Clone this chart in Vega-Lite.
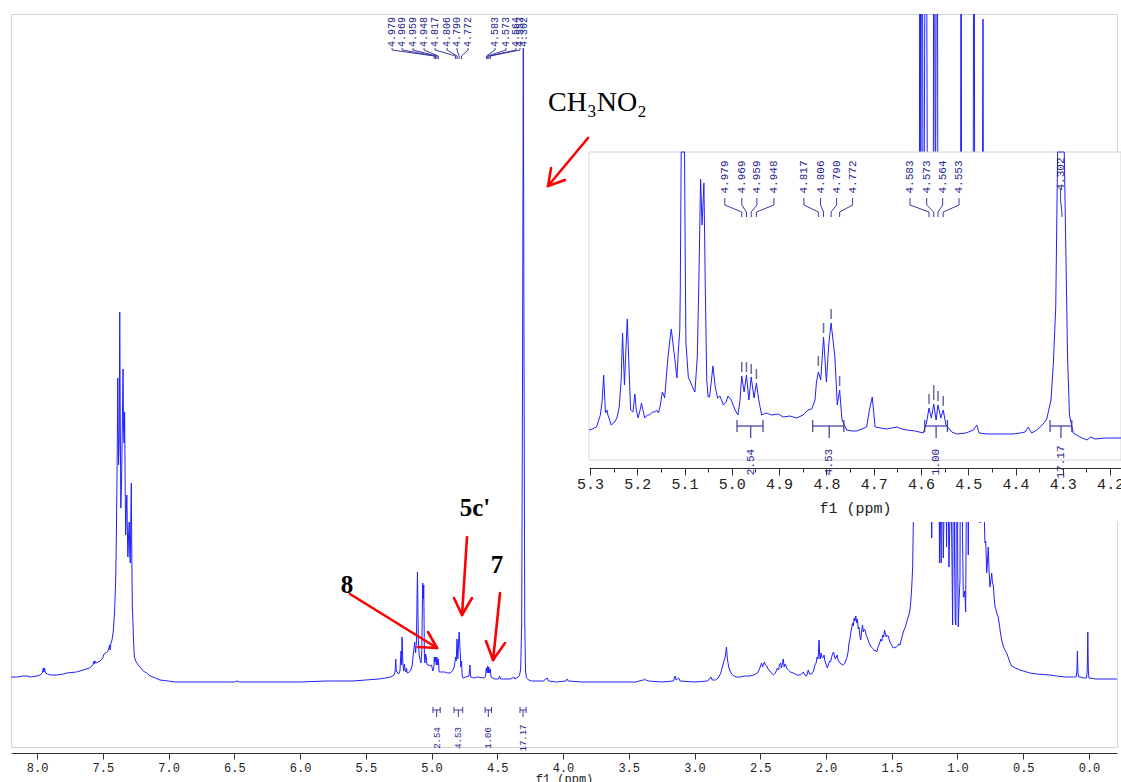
{
"$schema": "https://vega.github.io/schema/vega-lite/v6.json",
"width": 1106, "height": 733,
"autosize": {"type": "none"},
"padding": {"left": 11, "top": 14, "right": 4, "bottom": 35},
"background": "white",
"config": {"view": {"stroke": "#d4d4d4", "strokeWidth": 1}, "axis": {"labelFont": "Liberation Mono", "titleFont": "Liberation Mono", "domainColor": "#333333", "tickColor": "#333333", "labelColor": "#222222", "titleColor": "#222222", "grid": false, "titleFontWeight": "normal"}},
"datasets": {
"main": [
{"p":8.198,"i":4},{"p":8.15,"i":4},{"p":8.1,"i":5},{"p":8.078,"i":5},{"p":8.05,"i":4},{"p":8.0,"i":5},{"p":7.977,"i":6},{"p":7.96,"i":8},{"p":7.952,"i":13},{"p":7.948,"i":9},{"p":7.943,"i":13},{"p":7.937,"i":8},{"p":7.92,"i":7},{"p":7.9,"i":6},{"p":7.85,"i":6},{"p":7.8,"i":7},{"p":7.774,"i":8},{"p":7.7,"i":9},{"p":7.65,"i":11},{"p":7.6,"i":13},{"p":7.575,"i":16},{"p":7.568,"i":20},{"p":7.562,"i":17},{"p":7.557,"i":20},{"p":7.55,"i":18},{"p":7.52,"i":20},{"p":7.5,"i":23},{"p":7.496,"i":25},{"p":7.49,"i":27},{"p":7.48,"i":28},{"p":7.465,"i":29},{"p":7.455,"i":32},{"p":7.448,"i":36},{"p":7.445,"i":31},{"p":7.438,"i":38},{"p":7.43,"i":41},{"p":7.42,"i":50},{"p":7.41,"i":70},{"p":7.402,"i":100},{"p":7.397,"i":140},{"p":7.394,"i":178},{"p":7.39,"i":230},{"p":7.386,"i":303},{"p":7.383,"i":260},{"p":7.38,"i":216},{"p":7.375,"i":240},{"p":7.371,"i":369},{"p":7.367,"i":260},{"p":7.363,"i":173},{"p":7.357,"i":200},{"p":7.351,"i":260},{"p":7.346,"i":312},{"p":7.342,"i":250},{"p":7.338,"i":238},{"p":7.334,"i":269},{"p":7.33,"i":200},{"p":7.326,"i":146},{"p":7.321,"i":170},{"p":7.317,"i":186},{"p":7.313,"i":150},{"p":7.309,"i":124},{"p":7.304,"i":145},{"p":7.299,"i":159},{"p":7.295,"i":128},{"p":7.291,"i":118},{"p":7.287,"i":160},{"p":7.283,"i":198},{"p":7.279,"i":120},{"p":7.275,"i":73},{"p":7.271,"i":60},{"p":7.266,"i":40},{"p":7.26,"i":24},{"p":7.25,"i":20},{"p":7.24,"i":18},{"p":7.23,"i":16},{"p":7.217,"i":14},{"p":7.2,"i":11},{"p":7.18,"i":9},{"p":7.166,"i":8},{"p":7.14,"i":5},{"p":7.1,"i":3},{"p":7.065,"i":1},{"p":7.0,"i":0},{"p":6.95,"i":-1},{"p":6.7,"i":-1},{"p":6.5,"i":-1},{"p":6.48,"i":0},{"p":6.46,"i":-1},{"p":6.0,"i":-1},{"p":5.8,"i":0},{"p":5.6,"i":0},{"p":5.5,"i":1},{"p":5.4,"i":2},{"p":5.35,"i":3},{"p":5.31,"i":4},{"p":5.285,"i":6},{"p":5.277,"i":9},{"p":5.272,"i":22},{"p":5.268,"i":10},{"p":5.262,"i":9},{"p":5.25,"i":7},{"p":5.24,"i":10},{"p":5.232,"i":30},{"p":5.228,"i":16},{"p":5.224,"i":44},{"p":5.218,"i":18},{"p":5.212,"i":10},{"p":5.206,"i":17},{"p":5.2,"i":10},{"p":5.195,"i":9},{"p":5.19,"i":13},{"p":5.185,"i":8},{"p":5.17,"i":9},{"p":5.16,"i":10},{"p":5.15,"i":14},{"p":5.145,"i":18},{"p":5.14,"i":25},{"p":5.135,"i":30},{"p":5.128,"i":39},{"p":5.121,"i":28},{"p":5.115,"i":38},{"p":5.107,"i":109},{"p":5.1,"i":40},{"p":5.094,"i":26},{"p":5.088,"i":22},{"p":5.08,"i":18},{"p":5.074,"i":30},{"p":5.067,"i":98},{"p":5.063,"i":82},{"p":5.059,"i":96},{"p":5.054,"i":24},{"p":5.05,"i":18},{"p":5.045,"i":27},{"p":5.04,"i":24},{"p":5.035,"i":17},{"p":5.03,"i":16},{"p":5.02,"i":16},{"p":5.01,"i":15},{"p":5.0,"i":16},{"p":4.99,"i":10},{"p":4.982,"i":14},{"p":4.979,"i":24},{"p":4.974,"i":19},{"p":4.969,"i":24},{"p":4.964,"i":16},{"p":4.959,"i":24},{"p":4.953,"i":16},{"p":4.948,"i":22},{"p":4.942,"i":9},{"p":4.93,"i":9},{"p":4.9,"i":9},{"p":4.88,"i":8},{"p":4.86,"i":8},{"p":4.84,"i":10},{"p":4.828,"i":14},{"p":4.821,"i":20},{"p":4.817,"i":24},{"p":4.812,"i":20},{"p":4.806,"i":42},{"p":4.8,"i":22},{"p":4.79,"i":49},{"p":4.782,"i":30},{"p":4.777,"i":14},{"p":4.772,"i":20},{"p":4.767,"i":6},{"p":4.76,"i":3},{"p":4.74,"i":4},{"p":4.715,"i":5},{"p":4.708,"i":16},{"p":4.702,"i":4},{"p":4.68,"i":3},{"p":4.65,"i":4},{"p":4.6,"i":3},{"p":4.59,"i":4},{"p":4.583,"i":13},{"p":4.578,"i":8},{"p":4.573,"i":15},{"p":4.568,"i":8},{"p":4.564,"i":14},{"p":4.558,"i":8},{"p":4.553,"i":12},{"p":4.547,"i":4},{"p":4.52,"i":2},{"p":4.49,"i":2},{"p":4.482,"i":5},{"p":4.475,"i":2},{"p":4.4,"i":2},{"p":4.373,"i":4},{"p":4.365,"i":2},{"p":4.34,"i":4},{"p":4.33,"i":6},{"p":4.322,"i":12},{"p":4.314,"i":60},{"p":4.308,"i":300},{"p":4.302,"i":633},{"p":4.296,"i":300},{"p":4.291,"i":60},{"p":4.285,"i":10},{"p":4.278,"i":3},{"p":4.26,"i":1},{"p":4.24,"i":0},{"p":4.15,"i":0},{"p":4.12,"i":3},{"p":4.11,"i":0},{"p":4.05,"i":-1},{"p":3.98,"i":0},{"p":3.97,"i":2},{"p":3.96,"i":0},{"p":3.85,"i":-1},{"p":3.55,"i":-1},{"p":3.45,"i":-1},{"p":3.39,"i":1},{"p":3.38,"i":2},{"p":3.37,"i":1},{"p":3.35,"i":0},{"p":3.25,"i":-1},{"p":3.16,"i":0},{"p":3.148,"i":5},{"p":3.14,"i":1},{"p":3.12,"i":3},{"p":3.11,"i":0},{"p":3.0,"i":-1},{"p":2.9,"i":0},{"p":2.875,"i":4},{"p":2.865,"i":1},{"p":2.84,"i":1},{"p":2.82,"i":3},{"p":2.8,"i":8},{"p":2.793,"i":12},{"p":2.78,"i":18},{"p":2.765,"i":25},{"p":2.757,"i":34},{"p":2.75,"i":22},{"p":2.74,"i":14},{"p":2.73,"i":10},{"p":2.717,"i":7},{"p":2.7,"i":5},{"p":2.68,"i":4},{"p":2.65,"i":4},{"p":2.62,"i":5},{"p":2.58,"i":5},{"p":2.55,"i":6},{"p":2.52,"i":8},{"p":2.5,"i":14},{"p":2.49,"i":18},{"p":2.482,"i":14},{"p":2.475,"i":17},{"p":2.468,"i":19},{"p":2.46,"i":16},{"p":2.45,"i":15},{"p":2.44,"i":12},{"p":2.426,"i":10},{"p":2.41,"i":7},{"p":2.4,"i":6},{"p":2.385,"i":8},{"p":2.37,"i":13},{"p":2.36,"i":11},{"p":2.355,"i":16},{"p":2.345,"i":18},{"p":2.34,"i":13},{"p":2.335,"i":15},{"p":2.325,"i":22},{"p":2.318,"i":14},{"p":2.312,"i":17},{"p":2.307,"i":16},{"p":2.295,"i":12},{"p":2.287,"i":11},{"p":2.27,"i":9},{"p":2.25,"i":8},{"p":2.22,"i":6},{"p":2.198,"i":6},{"p":2.185,"i":7},{"p":2.173,"i":9},{"p":2.16,"i":6},{"p":2.147,"i":5},{"p":2.135,"i":11},{"p":2.125,"i":7},{"p":2.109,"i":7},{"p":2.095,"i":10},{"p":2.084,"i":16},{"p":2.075,"i":18},{"p":2.068,"i":24},{"p":2.06,"i":22},{"p":2.053,"i":41},{"p":2.048,"i":26},{"p":2.044,"i":22},{"p":2.038,"i":28},{"p":2.032,"i":24},{"p":2.025,"i":23},{"p":2.015,"i":26},{"p":2.008,"i":20},{"p":1.998,"i":16},{"p":1.99,"i":13},{"p":1.98,"i":17},{"p":1.972,"i":20},{"p":1.965,"i":19},{"p":1.957,"i":24},{"p":1.948,"i":28},{"p":1.942,"i":29},{"p":1.936,"i":25},{"p":1.93,"i":22},{"p":1.922,"i":24},{"p":1.915,"i":26},{"p":1.908,"i":21},{"p":1.899,"i":19},{"p":1.885,"i":17},{"p":1.869,"i":16},{"p":1.86,"i":17},{"p":1.85,"i":20},{"p":1.84,"i":24},{"p":1.832,"i":29},{"p":1.825,"i":38},{"p":1.818,"i":42},{"p":1.812,"i":48},{"p":1.805,"i":53},{"p":1.798,"i":58},{"p":1.792,"i":55},{"p":1.786,"i":63},{"p":1.78,"i":60},{"p":1.773,"i":65},{"p":1.767,"i":58},{"p":1.761,"i":62},{"p":1.755,"i":52},{"p":1.749,"i":54},{"p":1.742,"i":45},{"p":1.736,"i":41},{"p":1.729,"i":50},{"p":1.722,"i":56},{"p":1.716,"i":49},{"p":1.71,"i":52},{"p":1.703,"i":51},{"p":1.695,"i":46},{"p":1.688,"i":44},{"p":1.68,"i":41},{"p":1.672,"i":38},{"p":1.664,"i":36},{"p":1.656,"i":34},{"p":1.648,"i":33},{"p":1.64,"i":32},{"p":1.632,"i":30},{"p":1.625,"i":31},{"p":1.615,"i":29},{"p":1.606,"i":33},{"p":1.598,"i":36},{"p":1.589,"i":39},{"p":1.582,"i":42},{"p":1.575,"i":40},{"p":1.568,"i":46},{"p":1.561,"i":44},{"p":1.555,"i":51},{"p":1.548,"i":47},{"p":1.541,"i":44},{"p":1.534,"i":46},{"p":1.526,"i":45},{"p":1.519,"i":41},{"p":1.51,"i":38},{"p":1.501,"i":36},{"p":1.494,"i":34},{"p":1.488,"i":33},{"p":1.48,"i":34},{"p":1.475,"i":33},{"p":1.465,"i":34},{"p":1.455,"i":35},{"p":1.447,"i":37},{"p":1.437,"i":36},{"p":1.428,"i":41},{"p":1.42,"i":45},{"p":1.41,"i":50},{"p":1.399,"i":53},{"p":1.39,"i":57},{"p":1.38,"i":62},{"p":1.37,"i":66},{"p":1.361,"i":71},{"p":1.355,"i":80},{"p":1.349,"i":91},{"p":1.344,"i":105},{"p":1.341,"i":114},{"p":1.336,"i":160},{"p":1.331,"i":250},{"p":1.324,"i":380},{"p":1.315,"i":430},{"p":1.305,"i":450},{"p":1.295,"i":460},{"p":1.29,"i":470},{"p":1.285,"i":1000},{"p":1.279,"i":440},{"p":1.27,"i":1000},{"p":1.262,"i":450},{"p":1.255,"i":430},{"p":1.24,"i":1000},{"p":1.228,"i":420},{"p":1.215,"i":380},{"p":1.205,"i":300},{"p":1.2,"i":200},{"p":1.196,"i":143},{"p":1.191,"i":260},{"p":1.185,"i":380},{"p":1.179,"i":1000},{"p":1.168,"i":420},{"p":1.156,"i":1000},{"p":1.148,"i":380},{"p":1.141,"i":250},{"p":1.137,"i":118},{"p":1.133,"i":350},{"p":1.129,"i":160},{"p":1.124,"i":118},{"p":1.12,"i":330},{"p":1.114,"i":200},{"p":1.108,"i":123},{"p":1.1,"i":190},{"p":1.092,"i":250},{"p":1.083,"i":134},{"p":1.076,"i":260},{"p":1.07,"i":180},{"p":1.065,"i":114},{"p":1.058,"i":160},{"p":1.05,"i":220},{"p":1.042,"i":120},{"p":1.037,"i":56},{"p":1.032,"i":200},{"p":1.027,"i":330},{"p":1.022,"i":120},{"p":1.017,"i":60},{"p":1.012,"i":56},{"p":1.007,"i":250},{"p":1.002,"i":330},{"p":0.998,"i":110},{"p":0.994,"i":54},{"p":0.988,"i":80},{"p":0.981,"i":101},{"p":0.977,"i":300},{"p":0.973,"i":1000},{"p":0.968,"i":320},{"p":0.962,"i":150},{"p":0.956,"i":84},{"p":0.951,"i":84},{"p":0.944,"i":90},{"p":0.938,"i":69},{"p":0.932,"i":200},{"p":0.926,"i":400},{"p":0.922,"i":200},{"p":0.918,"i":126},{"p":0.912,"i":250},{"p":0.905,"i":400},{"p":0.897,"i":350},{"p":0.89,"i":300},{"p":0.882,"i":330},{"p":0.875,"i":1000},{"p":0.868,"i":350},{"p":0.86,"i":330},{"p":0.85,"i":300},{"p":0.84,"i":250},{"p":0.834,"i":220},{"p":0.829,"i":158},{"p":0.822,"i":240},{"p":0.815,"i":330},{"p":0.806,"i":662},{"p":0.799,"i":200},{"p":0.794,"i":150},{"p":0.791,"i":138},{"p":0.785,"i":140},{"p":0.778,"i":108},{"p":0.772,"i":120},{"p":0.766,"i":134},{"p":0.76,"i":110},{"p":0.753,"i":94},{"p":0.745,"i":102},{"p":0.74,"i":108},{"p":0.734,"i":98},{"p":0.728,"i":96},{"p":0.722,"i":85},{"p":0.715,"i":74},{"p":0.708,"i":72},{"p":0.702,"i":68},{"p":0.69,"i":64},{"p":0.68,"i":55},{"p":0.672,"i":47},{"p":0.664,"i":41},{"p":0.65,"i":34},{"p":0.64,"i":31},{"p":0.626,"i":28},{"p":0.61,"i":22},{"p":0.6,"i":18},{"p":0.588,"i":15},{"p":0.56,"i":13},{"p":0.525,"i":11},{"p":0.5,"i":10},{"p":0.45,"i":8},{"p":0.398,"i":7},{"p":0.3,"i":6},{"p":0.246,"i":5},{"p":0.18,"i":4},{"p":0.119,"i":4},{"p":0.098,"i":4},{"p":0.092,"i":10},{"p":0.088,"i":30},{"p":0.084,"i":8},{"p":0.078,"i":4},{"p":0.068,"i":4},{"p":0.04,"i":3},{"p":0.018,"i":3},{"p":0.013,"i":12},{"p":0.009,"i":49},{"p":0.005,"i":10},{"p":0.0,"i":3},{"p":-0.05,"i":2},{"p":-0.1,"i":2},{"p":-0.213,"i":2}
],
"inset": [
{"p":5.302,"i":10},{"p":5.295,"i":11},{"p":5.286,"i":13},{"p":5.278,"i":25},{"p":5.274,"i":40},{"p":5.271,"i":65},{"p":5.268,"i":35},{"p":5.267,"i":27},{"p":5.264,"i":30},{"p":5.262,"i":25},{"p":5.255,"i":15},{"p":5.25,"i":17},{"p":5.248,"i":18},{"p":5.243,"i":22},{"p":5.238,"i":33},{"p":5.234,"i":60},{"p":5.231,"i":107},{"p":5.229,"i":80},{"p":5.227,"i":55},{"p":5.224,"i":90},{"p":5.221,"i":121},{"p":5.218,"i":80},{"p":5.214,"i":30},{"p":5.209,"i":28},{"p":5.205,"i":46},{"p":5.202,"i":30},{"p":5.198,"i":22},{"p":5.194,"i":30},{"p":5.191,"i":37},{"p":5.187,"i":28},{"p":5.184,"i":22},{"p":5.178,"i":25},{"p":5.174,"i":25},{"p":5.168,"i":28},{"p":5.163,"i":28},{"p":5.159,"i":30},{"p":5.155,"i":27},{"p":5.151,"i":35},{"p":5.147,"i":48},{"p":5.144,"i":45},{"p":5.142,"i":42},{"p":5.139,"i":60},{"p":5.135,"i":83},{"p":5.131,"i":100},{"p":5.128,"i":111},{"p":5.124,"i":95},{"p":5.121,"i":83},{"p":5.116,"i":62},{"p":5.113,"i":90},{"p":5.11,"i":110},{"p":5.109,"i":150},{"p":5.107,"i":288},{"p":5.1,"i":288},{"p":5.098,"i":150},{"p":5.097,"i":97},{"p":5.092,"i":63},{"p":5.085,"i":55},{"p":5.078,"i":48},{"p":5.073,"i":83},{"p":5.07,"i":150},{"p":5.066,"i":261},{"p":5.063,"i":215},{"p":5.059,"i":257},{"p":5.056,"i":150},{"p":5.053,"i":60},{"p":5.05,"i":43},{"p":5.047,"i":43},{"p":5.043,"i":60},{"p":5.04,"i":74},{"p":5.035,"i":53},{"p":5.03,"i":42},{"p":5.025,"i":44},{"p":5.018,"i":35},{"p":5.012,"i":38},{"p":5.008,"i":44},{"p":5.001,"i":40},{"p":4.994,"i":31},{"p":4.987,"i":25},{"p":4.983,"i":38},{"p":4.979,"i":64},{"p":4.974,"i":48},{"p":4.969,"i":65},{"p":4.964,"i":40},{"p":4.959,"i":63},{"p":4.953,"i":42},{"p":4.948,"i":57},{"p":4.943,"i":40},{"p":4.937,"i":25},{"p":4.927,"i":27},{"p":4.916,"i":25},{"p":4.902,"i":26},{"p":4.891,"i":23},{"p":4.877,"i":24},{"p":4.863,"i":22},{"p":4.849,"i":25},{"p":4.839,"i":30},{"p":4.831,"i":31},{"p":4.824,"i":40},{"p":4.821,"i":58},{"p":4.817,"i":68},{"p":4.812,"i":60},{"p":4.806,"i":103},{"p":4.8,"i":58},{"p":4.795,"i":95},{"p":4.79,"i":117},{"p":4.782,"i":83},{"p":4.777,"i":35},{"p":4.772,"i":50},{"p":4.767,"i":20},{"p":4.757,"i":10},{"p":4.745,"i":9},{"p":4.736,"i":9},{"p":4.725,"i":11},{"p":4.715,"i":13},{"p":4.709,"i":30},{"p":4.703,"i":43},{"p":4.697,"i":13},{"p":4.685,"i":12},{"p":4.673,"i":11},{"p":4.662,"i":12},{"p":4.651,"i":13},{"p":4.64,"i":11},{"p":4.63,"i":10},{"p":4.612,"i":9},{"p":4.595,"i":7},{"p":4.588,"i":18},{"p":4.583,"i":32},{"p":4.578,"i":22},{"p":4.573,"i":36},{"p":4.568,"i":20},{"p":4.564,"i":35},{"p":4.558,"i":22},{"p":4.553,"i":30},{"p":4.547,"i":15},{"p":4.535,"i":8},{"p":4.524,"i":6},{"p":4.505,"i":7},{"p":4.489,"i":10},{"p":4.482,"i":15},{"p":4.477,"i":7},{"p":4.46,"i":6},{"p":4.447,"i":6},{"p":4.425,"i":6},{"p":4.405,"i":6},{"p":4.39,"i":7},{"p":4.38,"i":8},{"p":4.373,"i":13},{"p":4.366,"i":7},{"p":4.355,"i":10},{"p":4.348,"i":13},{"p":4.34,"i":17},{"p":4.334,"i":21},{"p":4.325,"i":40},{"p":4.32,"i":77},{"p":4.315,"i":133},{"p":4.311,"i":288},{"p":4.297,"i":288},{"p":4.294,"i":200},{"p":4.29,"i":83},{"p":4.286,"i":25},{"p":4.278,"i":7},{"p":4.264,"i":3},{"p":4.249,"i":0},{"p":4.241,"i":3},{"p":4.232,"i":1},{"p":4.21,"i":2},{"p":4.177,"i":2}
],
"mint": [
{"p":4.989,"i":-29,"p2":4.934,"i2":-29},{"p":4.989,"i":-26,"p2":4.989,"i2":-32},{"p":4.934,"i":-26,"p2":4.934,"i2":-32},{"p":4.961,"i":-29,"p2":4.961,"i2":-36},
{"p":4.829,"i":-29,"p2":4.763,"i2":-29},{"p":4.829,"i":-26,"p2":4.829,"i2":-32},{"p":4.763,"i":-26,"p2":4.763,"i2":-32},{"p":4.796,"i":-29,"p2":4.796,"i2":-36},
{"p":4.592,"i":-29,"p2":4.544,"i2":-29},{"p":4.592,"i":-26,"p2":4.592,"i2":-32},{"p":4.544,"i":-26,"p2":4.544,"i2":-32},{"p":4.568,"i":-29,"p2":4.568,"i2":-36},
{"p":4.327,"i":-29,"p2":4.281,"i2":-29},{"p":4.327,"i":-26,"p2":4.327,"i2":-32},{"p":4.281,"i":-26,"p2":4.281,"i2":-32},{"p":4.304,"i":-29,"p2":4.304,"i2":-36}
],
"mintlab": [{"p":4.961,"i":-57,"t":"2.54"},{"p":4.796,"i":-57,"t":"4.53"},{"p":4.568,"i":-57,"t":"1.00"},{"p":4.304,"i":-57,"t":"17.17"}],
"mlab": [
{"p":5.3,"i":649,"t":"4.979"},{"p":5.224,"i":649,"t":"4.969"},{"p":5.141,"i":649,"t":"4.959"},{"p":5.057,"i":649,"t":"4.948"},
{"p":4.973,"i":649,"t":"4.817"},{"p":4.882,"i":649,"t":"4.806"},{"p":4.806,"i":649,"t":"4.790"},{"p":4.722,"i":649,"t":"4.772"},
{"p":4.517,"i":649,"t":"4.583"},{"p":4.433,"i":649,"t":"4.573"},{"p":4.357,"i":649,"t":"4.564"},{"p":4.327,"i":649,"t":"4.553"},{"p":4.297,"i":649,"t":"4.302"}
],
"mcon": [
{"g":1,"k":1,"p":5.3,"i":633},{"g":1,"k":2,"p":5.3,"i":631},{"g":1,"k":3,"p":4.979,"i":625},{"g":1,"k":4,"p":4.979,"i":622},
{"g":2,"k":1,"p":5.224,"i":633},{"g":2,"k":2,"p":5.224,"i":631},{"g":2,"k":3,"p":4.969,"i":625},{"g":2,"k":4,"p":4.969,"i":622},
{"g":3,"k":1,"p":5.141,"i":633},{"g":3,"k":2,"p":5.141,"i":631},{"g":3,"k":3,"p":4.959,"i":625},{"g":3,"k":4,"p":4.959,"i":622},
{"g":4,"k":1,"p":5.057,"i":633},{"g":4,"k":2,"p":5.057,"i":631},{"g":4,"k":3,"p":4.948,"i":625},{"g":4,"k":4,"p":4.948,"i":622},
{"g":5,"k":1,"p":4.973,"i":633},{"g":5,"k":2,"p":4.973,"i":631},{"g":5,"k":3,"p":4.817,"i":625},{"g":5,"k":4,"p":4.817,"i":622},
{"g":6,"k":1,"p":4.882,"i":633},{"g":6,"k":2,"p":4.882,"i":631},{"g":6,"k":3,"p":4.806,"i":625},{"g":6,"k":4,"p":4.806,"i":622},
{"g":7,"k":1,"p":4.806,"i":633},{"g":7,"k":2,"p":4.806,"i":631},{"g":7,"k":3,"p":4.79,"i":625},{"g":7,"k":4,"p":4.79,"i":622},
{"g":8,"k":1,"p":4.722,"i":633},{"g":8,"k":2,"p":4.722,"i":631},{"g":8,"k":3,"p":4.772,"i":625},{"g":8,"k":4,"p":4.772,"i":622},
{"g":9,"k":1,"p":4.517,"i":633},{"g":9,"k":2,"p":4.517,"i":631},{"g":9,"k":3,"p":4.583,"i":625},{"g":9,"k":4,"p":4.583,"i":622},
{"g":10,"k":1,"p":4.433,"i":633},{"g":10,"k":2,"p":4.433,"i":631},{"g":10,"k":3,"p":4.573,"i":625},{"g":10,"k":4,"p":4.573,"i":622},
{"g":11,"k":1,"p":4.357,"i":633},{"g":11,"k":2,"p":4.357,"i":631},{"g":11,"k":3,"p":4.564,"i":625},{"g":11,"k":4,"p":4.564,"i":622},
{"g":12,"k":1,"p":4.327,"i":633},{"g":12,"k":2,"p":4.327,"i":631},{"g":12,"k":3,"p":4.553,"i":625},{"g":12,"k":4,"p":4.553,"i":622}
],
"arrows": [
{"p":3.81,"i":543,"p2":4.114,"i2":495},{"p":4.114,"i":495,"p2":3.985,"i2":501},{"p":4.114,"i":495,"p2":4.091,"i2":513},
{"p":5.62,"i":87,"p2":4.958,"i2":33},{"p":4.958,"i":33,"p2":5.103,"i2":34},{"p":4.958,"i":33,"p2":5.027,"i2":49},
{"p":4.73,"i":144,"p2":4.768,"i2":66},{"p":4.768,"i":66,"p2":4.829,"i2":83},{"p":4.768,"i":66,"p2":4.692,"i2":83},
{"p":4.479,"i":88,"p2":4.532,"i2":21},{"p":4.532,"i":21,"p2":4.586,"i2":40},{"p":4.532,"i":21,"p2":4.441,"i2":38}
],
"redlab": [{"p":5.643,"i":96,"t":"8"},{"p":4.669,"i":173,"t":"5c'"},{"p":4.502,"i":116,"t":"7"}],
"chem": [{"p":4.114,"i":578,"t":"CH₃NO₂"}],
"ibg": [{"p":5.302,"p2":4.177,"i":288,"i2":-82}],
"ibox": [{"p":5.302,"p2":4.177,"i":288,"i2":-20}],
"iint": [
{"p":4.989,"i":14,"p2":4.934,"i2":14},{"p":4.989,"i":20,"p2":4.989,"i2":8},{"p":4.934,"i":20,"p2":4.934,"i2":8},{"p":4.96,"i":14,"p2":4.96,"i2":2},
{"p":4.829,"i":14,"p2":4.763,"i2":14},{"p":4.829,"i":20,"p2":4.829,"i2":8},{"p":4.763,"i":20,"p2":4.763,"i2":8},{"p":4.794,"i":14,"p2":4.794,"i2":2},
{"p":4.592,"i":14,"p2":4.544,"i2":14},{"p":4.592,"i":20,"p2":4.592,"i2":8},{"p":4.544,"i":20,"p2":4.544,"i2":8},{"p":4.568,"i":14,"p2":4.568,"i2":2},
{"p":4.327,"i":14,"p2":4.281,"i2":14},{"p":4.327,"i":20,"p2":4.327,"i2":8},{"p":4.281,"i":20,"p2":4.281,"i2":8},{"p":4.304,"i":14,"p2":4.304,"i2":2}
],
"iintlab": [{"p":4.96,"i":-22,"t":"2.54"},{"p":4.794,"i":-22,"t":"4.53"},{"p":4.568,"i":-22,"t":"1.00"},{"p":4.304,"i":-22,"t":"17.17"}],
"imark": [
{"p":4.979,"i":68,"i2":78},{"p":4.969,"i":68,"i2":78},{"p":4.959,"i":66,"i2":76},{"p":4.948,"i":61,"i2":71},
{"p":4.817,"i":74,"i2":84},{"p":4.806,"i":107,"i2":117},{"p":4.79,"i":121,"i2":131},{"p":4.772,"i":54,"i2":64},
{"p":4.583,"i":36,"i2":46},{"p":4.573,"i":40,"i2":55},{"p":4.564,"i":39,"i2":49},{"p":4.553,"i":34,"i2":44}
],
"ilab": [
{"p":5.0148,"i":263,"t":"4.979"},{"p":4.9788,"i":263,"t":"4.969"},{"p":4.947,"i":263,"t":"4.959"},{"p":4.911,"i":263,"t":"4.948"},
{"p":4.8476,"i":263,"t":"4.817"},{"p":4.8123,"i":263,"t":"4.806"},{"p":4.7784,"i":263,"t":"4.790"},{"p":4.7446,"i":263,"t":"4.772"},
{"p":4.6233,"i":263,"t":"4.583"},{"p":4.5879,"i":263,"t":"4.573"},{"p":4.5541,"i":263,"t":"4.564"},{"p":4.5196,"i":263,"t":"4.553"},
{"p":4.3048,"i":266,"t":"4.302"}
],
"icon": [
{"g":1,"k":1,"p":5.0148,"i":242},{"g":1,"k":2,"p":5.0148,"i":235},{"g":1,"k":3,"p":4.979,"i":228},{"g":1,"k":4,"p":4.979,"i":223},
{"g":2,"k":1,"p":4.9788,"i":242},{"g":2,"k":2,"p":4.9788,"i":235},{"g":2,"k":3,"p":4.969,"i":228},{"g":2,"k":4,"p":4.969,"i":223},
{"g":3,"k":1,"p":4.947,"i":242},{"g":3,"k":2,"p":4.947,"i":235},{"g":3,"k":3,"p":4.959,"i":228},{"g":3,"k":4,"p":4.959,"i":223},
{"g":4,"k":1,"p":4.911,"i":242},{"g":4,"k":2,"p":4.911,"i":235},{"g":4,"k":3,"p":4.948,"i":228},{"g":4,"k":4,"p":4.948,"i":223},
{"g":5,"k":1,"p":4.8476,"i":242},{"g":5,"k":2,"p":4.8476,"i":235},{"g":5,"k":3,"p":4.817,"i":228},{"g":5,"k":4,"p":4.817,"i":223},
{"g":6,"k":1,"p":4.8123,"i":242},{"g":6,"k":2,"p":4.8123,"i":235},{"g":6,"k":3,"p":4.806,"i":228},{"g":6,"k":4,"p":4.806,"i":223},
{"g":7,"k":1,"p":4.7784,"i":242},{"g":7,"k":2,"p":4.7784,"i":235},{"g":7,"k":3,"p":4.79,"i":228},{"g":7,"k":4,"p":4.79,"i":223},
{"g":8,"k":1,"p":4.7446,"i":242},{"g":8,"k":2,"p":4.7446,"i":235},{"g":8,"k":3,"p":4.772,"i":228},{"g":8,"k":4,"p":4.772,"i":223},
{"g":9,"k":1,"p":4.6233,"i":242},{"g":9,"k":2,"p":4.6233,"i":235},{"g":9,"k":3,"p":4.583,"i":228},{"g":9,"k":4,"p":4.583,"i":223},
{"g":10,"k":1,"p":4.5879,"i":242},{"g":10,"k":2,"p":4.5879,"i":235},{"g":10,"k":3,"p":4.573,"i":228},{"g":10,"k":4,"p":4.573,"i":223},
{"g":11,"k":1,"p":4.5541,"i":242},{"g":11,"k":2,"p":4.5541,"i":235},{"g":11,"k":3,"p":4.564,"i":228},{"g":11,"k":4,"p":4.564,"i":223},
{"g":12,"k":1,"p":4.5196,"i":242},{"g":12,"k":2,"p":4.5196,"i":235},{"g":12,"k":3,"p":4.553,"i":228},{"g":12,"k":4,"p":4.553,"i":223},
{"g":13,"k":1,"p":4.3048,"i":252},{"g":13,"k":2,"p":4.3048,"i":240},{"g":13,"k":3,"p":4.302,"i":228},{"g":13,"k":4,"p":4.302,"i":223}
]
},
"layer": [
{
"layer": [
{"data": {"name": "main"}, "mark": {"type": "line", "clip": true, "stroke": "#2020ff", "strokeWidth": 1},
 "encoding": {
  "x": {"field": "p", "type": "quantitative", "scale": {"domain": [-0.213, 8.198], "reverse": true, "nice": false, "zero": false},
   "axis": {"title": "f1 (ppm)", "offset": 6, "zindex": 1, "values": [8,7.75,7.5,7.25,7,6.75,6.5,6.25,6,5.75,5.5,5.25,5,4.75,4.5,4.25,4,3.75,3.5,3.25,3,2.75,2.5,2.25,2,1.75,1.5,1.25,1,0.75,0.5,0.25,0],
    "labelExpr": "abs(datum.value*2-round(datum.value*2))<0.001 ? format(datum.value,'.1f') : ''",
    "tickSize": {"condition": {"test": "abs(datum.value*2-round(datum.value*2))<0.001", "value": 6}, "value": 3},
    "labelFontSize": 12, "titleFontSize": 12, "labelPadding": 3, "titlePadding": 0, "labelFlush": false, "labelOverlap": false, "labelBound": false}},
  "y": {"field": "i", "type": "quantitative", "scale": {"domain": [-66, 667], "nice": false, "zero": false}, "axis": null}
 }},
{"data": {"name": "mint"}, "mark": {"type": "rule", "stroke": "#3a3aa0", "strokeWidth": 1},
 "encoding": {
  "x": {"field": "p", "type": "quantitative", "scale": {"domain": [-0.213, 8.198], "reverse": true, "nice": false, "zero": false}, "axis": {"title": "f1 (ppm)"}},
  "x2": {"field": "p2"},
  "y": {"field": "i", "type": "quantitative", "scale": {"domain": [-66, 667], "nice": false, "zero": false}, "axis": null},
  "y2": {"field": "i2"}
 }},
{"data": {"name": "mintlab"}, "mark": {"type": "text", "angle": 270, "align": "center", "baseline": "middle", "font": "Liberation Mono", "fontSize": 9, "fill": "#26268c"},
 "encoding": {
  "x": {"field": "p", "type": "quantitative", "scale": {"domain": [-0.213, 8.198], "reverse": true, "nice": false, "zero": false}, "axis": {"title": "f1 (ppm)"}},
  "y": {"field": "i", "type": "quantitative", "scale": {"domain": [-66, 667], "nice": false, "zero": false}, "axis": null},
  "text": {"field": "t"}
 }},
{"data": {"name": "mlab"}, "mark": {"type": "text", "angle": 270, "align": "center", "baseline": "middle", "font": "Liberation Mono", "fontSize": 10, "fill": "#26268c"},
 "encoding": {
  "x": {"field": "p", "type": "quantitative", "scale": {"domain": [-0.213, 8.198], "reverse": true, "nice": false, "zero": false}, "axis": {"title": "f1 (ppm)"}},
  "y": {"field": "i", "type": "quantitative", "scale": {"domain": [-66, 667], "nice": false, "zero": false}, "axis": null},
  "text": {"field": "t"}
 }},
{"data": {"name": "mcon"}, "mark": {"type": "line", "stroke": "#3a3aa0", "strokeWidth": 1},
 "encoding": {
  "x": {"field": "p", "type": "quantitative", "scale": {"domain": [-0.213, 8.198], "reverse": true, "nice": false, "zero": false}, "axis": {"title": "f1 (ppm)"}},
  "y": {"field": "i", "type": "quantitative", "scale": {"domain": [-66, 667], "nice": false, "zero": false}, "axis": null},
  "detail": {"field": "g", "type": "nominal"},
  "order": {"field": "k", "type": "quantitative"}
 }},
{"data": {"name": "arrows"}, "mark": {"type": "rule", "stroke": "#ff0000", "strokeWidth": 2.6, "strokeCap": "round"},
 "encoding": {
  "x": {"field": "p", "type": "quantitative", "scale": {"domain": [-0.213, 8.198], "reverse": true, "nice": false, "zero": false}, "axis": {"title": "f1 (ppm)"}},
  "x2": {"field": "p2"},
  "y": {"field": "i", "type": "quantitative", "scale": {"domain": [-66, 667], "nice": false, "zero": false}, "axis": null},
  "y2": {"field": "i2"}
 }},
{"data": {"name": "redlab"}, "mark": {"type": "text", "align": "center", "baseline": "middle", "font": "Liberation Serif", "fontSize": 25, "fontWeight": "bold", "fill": "#000000"},
 "encoding": {
  "x": {"field": "p", "type": "quantitative", "scale": {"domain": [-0.213, 8.198], "reverse": true, "nice": false, "zero": false}, "axis": {"title": "f1 (ppm)"}},
  "y": {"field": "i", "type": "quantitative", "scale": {"domain": [-66, 667], "nice": false, "zero": false}, "axis": null},
  "text": {"field": "t"}
 }},
{"data": {"name": "chem"}, "mark": {"type": "text", "align": "left", "baseline": "middle", "font": "Liberation Serif", "fontSize": 28, "fill": "#000000"},
 "encoding": {
  "x": {"field": "p", "type": "quantitative", "scale": {"domain": [-0.213, 8.198], "reverse": true, "nice": false, "zero": false}, "axis": {"title": "f1 (ppm)"}},
  "y": {"field": "i", "type": "quantitative", "scale": {"domain": [-66, 667], "nice": false, "zero": false}, "axis": null},
  "text": {"field": "t"}
 }}
]
},
{
"layer": [
{"data": {"name": "ibg"}, "mark": {"type": "rect", "fill": "#ffffff", "strokeWidth": 0},
 "encoding": {
  "x": {"field": "p", "type": "quantitative", "scale": {"domain": [4.177, 5.302], "range": [1110, 578], "nice": false, "zero": false},
   "axis": {"title": "f1 (ppm)", "orient": "bottom", "offset": -279, "zindex": 1, "values": [5.3,5.25,5.2,5.15,5.1,5.05,5,4.95,4.9,4.85,4.8,4.75,4.7,4.65,4.6,4.55,4.5,4.45,4.4,4.35,4.3,4.25,4.2],
    "labelExpr": "abs(datum.value*10-round(datum.value*10))<0.001 ? format(datum.value,'.1f') : ''",
    "tickSize": {"condition": {"test": "abs(datum.value*10-round(datum.value*10))<0.001", "value": 7}, "value": 4},
    "labelFontSize": 15, "titleFontSize": 15, "labelPadding": 1, "titlePadding": 9, "labelFlush": false, "labelOverlap": false, "labelBound": false}},
  "x2": {"field": "p2"},
  "y": {"field": "i", "type": "quantitative", "scale": {"domain": [-20, 288], "range": [446, 138], "nice": false, "zero": false}, "axis": null},
  "y2": {"field": "i2"}
 }},
{"data": {"name": "ibox"}, "mark": {"type": "rect", "fill": null, "fillOpacity": 0, "stroke": "#d4d4d4", "strokeWidth": 1},
 "encoding": {
  "x": {"field": "p", "type": "quantitative", "scale": {"domain": [4.177, 5.302], "range": [1110, 578], "nice": false, "zero": false}, "axis": {"title": "f1 (ppm)"}},
  "x2": {"field": "p2"},
  "y": {"field": "i", "type": "quantitative", "scale": {"domain": [-20, 288], "range": [446, 138], "nice": false, "zero": false}, "axis": null},
  "y2": {"field": "i2"}
 }},
{"data": {"name": "inset"}, "mark": {"type": "line", "stroke": "#2020ff", "strokeWidth": 1},
 "encoding": {
  "x": {"field": "p", "type": "quantitative", "scale": {"domain": [4.177, 5.302], "range": [1110, 578], "nice": false, "zero": false}, "axis": {"title": "f1 (ppm)"}},
  "y": {"field": "i", "type": "quantitative", "scale": {"domain": [-20, 288], "range": [446, 138], "nice": false, "zero": false}, "axis": null}
 }},
{"data": {"name": "iint"}, "mark": {"type": "rule", "stroke": "#3a3aa0", "strokeWidth": 1.2},
 "encoding": {
  "x": {"field": "p", "type": "quantitative", "scale": {"domain": [4.177, 5.302], "range": [1110, 578], "nice": false, "zero": false}, "axis": {"title": "f1 (ppm)"}},
  "x2": {"field": "p2"},
  "y": {"field": "i", "type": "quantitative", "scale": {"domain": [-20, 288], "range": [446, 138], "nice": false, "zero": false}, "axis": null},
  "y2": {"field": "i2"}
 }},
{"data": {"name": "iintlab"}, "mark": {"type": "text", "angle": 270, "align": "center", "baseline": "middle", "font": "Liberation Mono", "fontSize": 11, "fill": "#26268c"},
 "encoding": {
  "x": {"field": "p", "type": "quantitative", "scale": {"domain": [4.177, 5.302], "range": [1110, 578], "nice": false, "zero": false}, "axis": {"title": "f1 (ppm)"}},
  "y": {"field": "i", "type": "quantitative", "scale": {"domain": [-20, 288], "range": [446, 138], "nice": false, "zero": false}, "axis": null},
  "text": {"field": "t"}
 }},
{"data": {"name": "imark"}, "mark": {"type": "rule", "stroke": "#6a6a9a", "strokeWidth": 1.5},
 "encoding": {
  "x": {"field": "p", "type": "quantitative", "scale": {"domain": [4.177, 5.302], "range": [1110, 578], "nice": false, "zero": false}, "axis": {"title": "f1 (ppm)"}},
  "y": {"field": "i", "type": "quantitative", "scale": {"domain": [-20, 288], "range": [446, 138], "nice": false, "zero": false}, "axis": null},
  "y2": {"field": "i2"}
 }},
{"data": {"name": "ilab"}, "mark": {"type": "text", "angle": 270, "align": "center", "baseline": "middle", "font": "Liberation Mono", "fontSize": 11, "fill": "#26268c"},
 "encoding": {
  "x": {"field": "p", "type": "quantitative", "scale": {"domain": [4.177, 5.302], "range": [1110, 578], "nice": false, "zero": false}, "axis": {"title": "f1 (ppm)"}},
  "y": {"field": "i", "type": "quantitative", "scale": {"domain": [-20, 288], "range": [446, 138], "nice": false, "zero": false}, "axis": null},
  "text": {"field": "t"}
 }},
{"data": {"name": "icon"}, "mark": {"type": "line", "stroke": "#3a3aa0", "strokeWidth": 1},
 "encoding": {
  "x": {"field": "p", "type": "quantitative", "scale": {"domain": [4.177, 5.302], "range": [1110, 578], "nice": false, "zero": false}, "axis": {"title": "f1 (ppm)"}},
  "y": {"field": "i", "type": "quantitative", "scale": {"domain": [-20, 288], "range": [446, 138], "nice": false, "zero": false}, "axis": null},
  "detail": {"field": "g", "type": "nominal"},
  "order": {"field": "k", "type": "quantitative"}
 }}
]
}
],
"resolve": {"scale": {"x": "independent", "y": "independent"}, "axis": {"x": "independent", "y": "independent"}}
}
